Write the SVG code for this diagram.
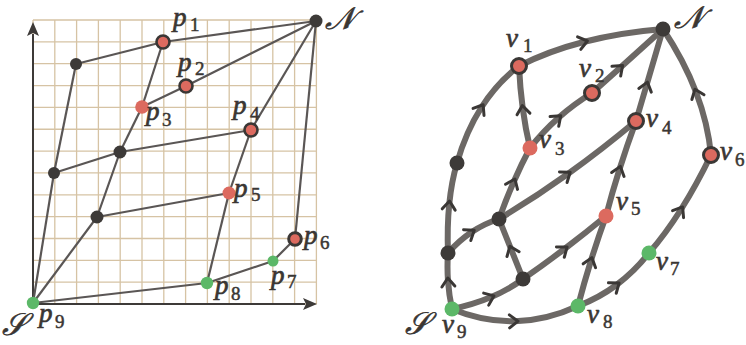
<svg xmlns="http://www.w3.org/2000/svg" width="746" height="345" viewBox="0 0 746 345">
<defs>
<style>
.grid line{stroke:#d6c3a4;stroke-width:1.3}
.axis{stroke:#3d3a38;stroke-width:2;fill:none}
.le{stroke:#5a5655;stroke-width:2.2;fill:none}
.re{stroke:#6c6865;stroke-width:6;fill:none;marker-mid:url(#chev)}
.dark{fill:#3d3a38}
.red{fill:#dc6a5f}
.redr{fill:#dc6a5f;stroke:#3a3735;stroke-width:2.6}
.redr2{fill:#dc6a5f;stroke:#3a3735;stroke-width:3}
.green{fill:#5cb868}
.lbl{font-family:"Liberation Serif","DejaVu Serif",serif;font-style:italic;font-size:27px;fill:#3a3633;stroke:#3a3633;stroke-width:0.7}
.sub{font-family:"Liberation Serif","DejaVu Serif",serif;font-size:19px;fill:#3a3633;stroke:#3a3633;stroke-width:0.5}
.cal{font-family:"DejaVu Serif","Noto Sans","DejaVu Sans",serif;font-style:italic;font-size:31px;fill:#3a3633;stroke:#3a3633;stroke-width:0.6}
</style>
<marker id="chev" viewBox="-8 -9 16 18" markerWidth="16" markerHeight="18" refX="0" refY="0" orient="auto" markerUnits="userSpaceOnUse">
<path d="M-5.5,-6.5 L3,0 L-5.5,6.5" fill="none" stroke="#3a3735" stroke-width="3" stroke-linecap="round" stroke-linejoin="round"/>
</marker>
<marker id="ah" viewBox="0 0 14 12" markerWidth="14" markerHeight="12" refX="2" refY="6" orient="auto" markerUnits="userSpaceOnUse">
<path d="M0,0 L14,6 L0,12 L3,6 Z" fill="#3d3a38"/>
</marker>
</defs>

<g id="grid" class="grid">
<line x1="33" y1="20" x2="33" y2="304"/><line x1="54.8" y1="20" x2="54.8" y2="304"/><line x1="76.6" y1="20" x2="76.6" y2="304"/><line x1="98.4" y1="20" x2="98.4" y2="304"/><line x1="120.2" y1="20" x2="120.2" y2="304"/><line x1="142" y1="20" x2="142" y2="304"/><line x1="163.8" y1="20" x2="163.8" y2="304"/><line x1="185.6" y1="20" x2="185.6" y2="304"/><line x1="207.4" y1="20" x2="207.4" y2="304"/><line x1="229.2" y1="20" x2="229.2" y2="304"/><line x1="251" y1="20" x2="251" y2="304"/><line x1="272.8" y1="20" x2="272.8" y2="304"/><line x1="294.6" y1="20" x2="294.6" y2="304"/><line x1="316.4" y1="20" x2="316.4" y2="304"/>
<line x1="33" y1="20" x2="316.4" y2="20"/><line x1="33" y1="41.85" x2="316.4" y2="41.85"/><line x1="33" y1="63.7" x2="316.4" y2="63.7"/><line x1="33" y1="85.55" x2="316.4" y2="85.55"/><line x1="33" y1="107.4" x2="316.4" y2="107.4"/><line x1="33" y1="129.25" x2="316.4" y2="129.25"/><line x1="33" y1="151.1" x2="316.4" y2="151.1"/><line x1="33" y1="172.95" x2="316.4" y2="172.95"/><line x1="33" y1="194.8" x2="316.4" y2="194.8"/><line x1="33" y1="216.65" x2="316.4" y2="216.65"/><line x1="33" y1="238.5" x2="316.4" y2="238.5"/><line x1="33" y1="260.35" x2="316.4" y2="260.35"/><line x1="33" y1="282.2" x2="316.4" y2="282.2"/><line x1="33" y1="304" x2="316.4" y2="304"/>
</g>

<g id="axes">
<line class="axis" x1="33" y1="304" x2="33" y2="34" marker-end="url(#ah)"/>
<line class="axis" x1="33" y1="304" x2="305" y2="304" marker-end="url(#ah)"/>
</g>

<g id="edges-left">
<line class="le" x1="33" y1="303" x2="54" y2="173"/>
<line class="le" x1="54" y1="173" x2="76" y2="64"/>
<line class="le" x1="76" y1="64" x2="163" y2="42"/>
<line class="le" x1="163" y1="42" x2="316" y2="21"/>
<line class="le" x1="163" y1="42" x2="142" y2="107"/>
<line class="le" x1="142" y1="107" x2="186" y2="86"/>
<line class="le" x1="186" y1="86" x2="316" y2="21"/>
<line class="le" x1="142" y1="107" x2="120" y2="152"/>
<line class="le" x1="120" y1="152" x2="54" y2="173"/>
<line class="le" x1="120" y1="152" x2="251" y2="130"/>
<line class="le" x1="251" y1="130" x2="316" y2="21"/>
<line class="le" x1="120" y1="152" x2="97" y2="217"/>
<line class="le" x1="97" y1="217" x2="33" y2="303"/>
<line class="le" x1="97" y1="217" x2="229" y2="193"/>
<line class="le" x1="229" y1="193" x2="251" y2="130"/>
<line class="le" x1="229" y1="193" x2="207" y2="283"/>
<line class="le" x1="207" y1="283" x2="33" y2="303"/>
<line class="le" x1="207" y1="283" x2="273" y2="261"/>
<line class="le" x1="273" y1="261" x2="295" y2="239"/>
<line class="le" x1="295" y1="239" x2="316" y2="21"/>
</g>

<g id="L-N"><circle class="dark" cx="316" cy="21" r="6.5"/><text class="cal" x="325" y="29">𝒩</text></g>
<g id="L-p1"><circle class="redr" cx="163" cy="42" r="6.5"/><text class="lbl" x="173" y="26">p</text><text class="sub" x="190" y="31">1</text></g>
<g id="L-p2"><circle class="redr" cx="186" cy="86" r="6.5"/><text class="lbl" x="178" y="71">p</text><text class="sub" x="195" y="75">2</text></g>
<g id="L-p3"><circle class="red" cx="142" cy="107" r="6.8"/><text class="lbl" x="146" y="120">p</text><text class="sub" x="162" y="126">3</text></g>
<g id="L-p4"><circle class="redr" cx="251" cy="130" r="6.5"/><text class="lbl" x="233" y="114">p</text><text class="sub" x="250" y="120">4</text></g>
<g id="L-a"><circle class="dark" cx="76" cy="64" r="6"/></g>
<g id="L-b"><circle class="dark" cx="120" cy="152" r="6.5"/></g>
<g id="L-c"><circle class="dark" cx="54" cy="173" r="6"/></g>
<g id="L-d"><circle class="dark" cx="97" cy="217" r="6.5"/></g>
<g id="L-p5"><circle class="red" cx="229" cy="193" r="6.5"/><text class="lbl" x="234" y="197">p</text><text class="sub" x="251" y="201">5</text></g>
<g id="L-p6"><circle class="redr2" cx="295" cy="239" r="6.3"/><text class="lbl" x="304" y="244">p</text><text class="sub" x="320" y="249">6</text></g>
<g id="L-p7"><circle class="green" cx="273" cy="261" r="5.5"/><text class="lbl" x="271" y="284">p</text><text class="sub" x="287" y="288">7</text></g>
<g id="L-p8"><circle class="green" cx="207" cy="283" r="6.2"/><text class="lbl" x="215" y="294">p</text><text class="sub" x="231" y="300">8</text></g>
<g id="L-p9"><circle class="green" cx="33" cy="303" r="6.2"/><text class="lbl" x="39" y="322">p</text><text class="sub" x="55" y="328">9</text><text class="cal" x="2" y="335">𝒮</text></g>

<g id="edges-right">
<path class="re" d="M452,309 Q449,295 448,281 Q447,267 448,253"/>
<path class="re" d="M448,253 Q447,226.5 449.25,204 Q451.5,181.5 457,163"/>
<path class="re" d="M457,163 Q466,131.5 481.5,107.25 Q497,83 519,66"/>
<path class="re" d="M519,66 Q548.5,51 584.5,41.75 Q620.5,32.5 663,29"/>
<path class="re" d="M530,148 Q525.5,129 522.75,108.5 Q520,88 519,66"/>
<path class="re" d="M530,148 Q543,131.5 558.5,117.75 Q574,104 592,93"/>
<path class="re" d="M592,93 L620.4,67.4 L663,29"/>
<path class="re" d="M636,121 L646.6,85 L663,29"/>
<path class="re" d="M711,155 Q708,123.5 696,92 Q684,60.5 663,29"/>
<path class="re" d="M649,253 Q665.5,234 681,209.5 Q696.5,185 711,155"/>
<path class="re" d="M578,306 Q599,298 616.75,284.75 Q634.5,271.5 649,253"/>
<path class="re" d="M452,309 Q483.5,322 515,321.25 Q546.5,320.5 578,306"/>
<path class="re" d="M452,309 Q473.5,304.5 491.25,297 Q509,289.5 523,279"/>
<path class="re" d="M523,279 L511,249 L499,219"/>
<path class="re" d="M448,253 Q459,240.5 471.75,232 Q484.5,223.5 499,219"/>
<path class="re" d="M499,219 Q506,199.5 513.75,181.75 Q521.5,164 530,148"/>
<path class="re" d="M499,219 Q533.5,198.5 567.75,174 Q602,149.5 636,121"/>
<path class="re" d="M523,279 Q544,264.5 564.75,248.75 Q585.5,233 606,216"/>
<path class="re" d="M578,306 Q584,283 591,260.5 Q598,238 606,216"/>
<path class="re" d="M606,216 Q612,193 619.5,169.25 Q627,145.5 636,121"/>
</g>

<g id="R-N"><circle class="dark" cx="663" cy="29" r="7.5"/><text class="cal" x="674" y="28">𝒩</text></g>
<g id="R-v1"><circle class="redr2" cx="519" cy="66" r="7.5"/><text class="lbl" x="506" y="47">v</text><text class="sub" x="523" y="52">1</text></g>
<g id="R-v2"><circle class="redr2" cx="592" cy="93" r="7.5"/><text class="lbl" x="579" y="77">v</text><text class="sub" x="595" y="82">2</text></g>
<g id="R-v3"><circle class="red" cx="530" cy="148" r="7.5"/><text class="lbl" x="539" y="148">v</text><text class="sub" x="555" y="155">3</text></g>
<g id="R-v4"><circle class="redr2" cx="636" cy="121" r="7.5"/><text class="lbl" x="646" y="127">v</text><text class="sub" x="662" y="134">4</text></g>
<g id="R-v5"><circle class="red" cx="606" cy="216" r="7.5"/><text class="lbl" x="616" y="210">v</text><text class="sub" x="631" y="215">5</text></g>
<g id="R-v6"><circle class="redr2" cx="711" cy="155" r="7.5"/><text class="lbl" x="720" y="160">v</text><text class="sub" x="735" y="166">6</text></g>
<g id="R-v7"><circle class="green" cx="649" cy="253" r="7.5"/><text class="lbl" x="656" y="270">v</text><text class="sub" x="670" y="275">7</text></g>
<g id="R-v8"><circle class="green" cx="578" cy="306" r="7.5"/><text class="lbl" x="587" y="323">v</text><text class="sub" x="603" y="328">8</text></g>
<g id="R-v9"><circle class="green" cx="452" cy="309" r="7.5"/><text class="lbl" x="442" y="333">v</text><text class="sub" x="457" y="338">9</text><text class="cal" x="405" y="334">𝒮</text></g>
<g id="R-e"><circle class="dark" cx="457" cy="163" r="7.5"/></g>
<g id="R-f"><circle class="dark" cx="499" cy="219" r="7.5"/></g>
<g id="R-g"><circle class="dark" cx="448" cy="253" r="7.5"/></g>
<g id="R-h"><circle class="dark" cx="523" cy="279" r="7.5"/></g>
</svg>
